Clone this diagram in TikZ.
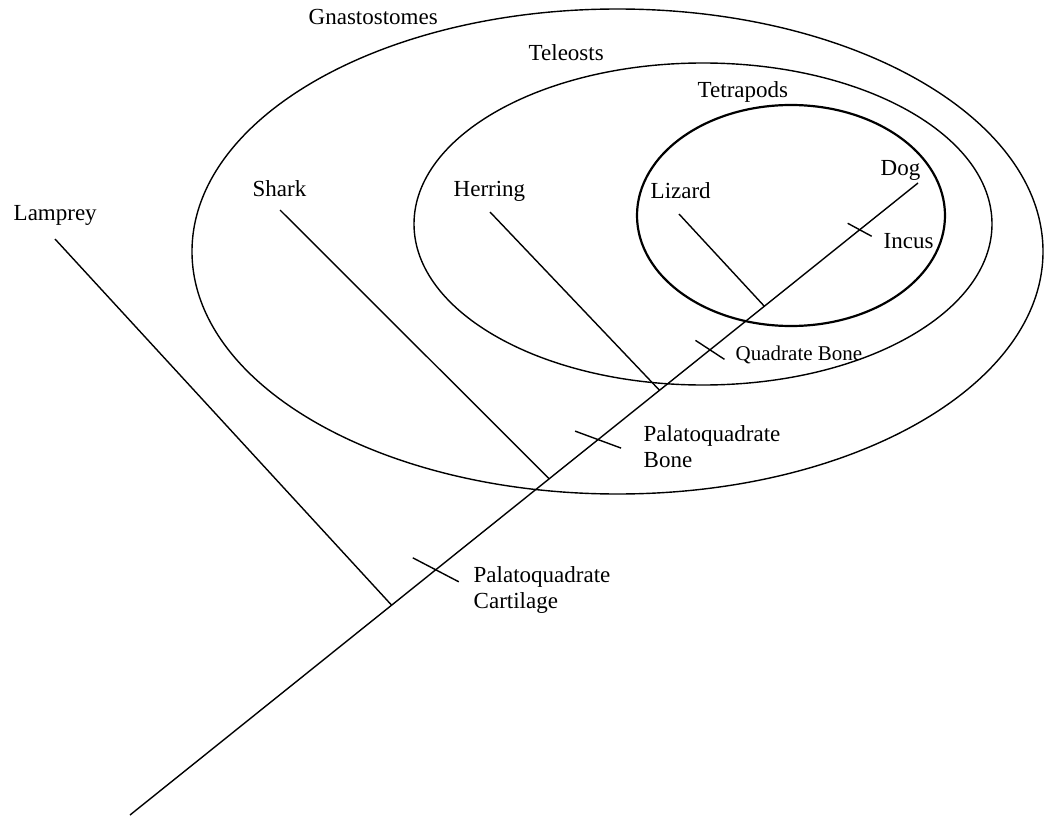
\documentclass[tikz,border=0pt]{standalone}
\usepackage{fontspec}
\setmainfont{Liberation Serif}
\usetikzlibrary{calc,positioning}

\tikzset{
  lbl/.style={inner sep=0pt,anchor=base west,font=\fontsize{23}{26}\selectfont},
  smalllbl/.style={lbl,font=\fontsize{21}{24}\selectfont},
  twolbl/.style={lbl,align=left},
  clade/.style={line width=1.4pt},
  tick/.style={line width=1.4pt}
}

\begin{document}
\begin{tikzpicture}[x=1pt,y=-1pt,line width=1.4pt]
\useasboundingbox (0,0) rectangle (1045,816);
% clades
\draw[clade] (617.5,251.5) ellipse [x radius=425.5pt, y radius=242.5pt];
\draw[clade] (703,224) ellipse [x radius=289pt, y radius=161pt];
\draw[clade,line width=2.2pt] (791,215.5) ellipse [x radius=154pt, y radius=110.5pt];
\node[lbl] (gnasto) at (308,25) {Gnastostomes};
\node[lbl] (teleo) at (528,61) {Teleosts};
\node[lbl] (tetra) at (697,97) {Tetrapods};
% trunk
\coordinate (root) at (130,815);
\coordinate (dogtip) at (918,183);
\draw (root) -- (dogtip);
\coordinate (jlamprey) at ($(root)!0.332!(dogtip)$);
\coordinate (jshark) at ($(root)!0.532!(dogtip)$);
\coordinate (jherring) at ($(root)!0.672!(dogtip)$);
\coordinate (jlizard) at ($(root)!0.805!(dogtip)$);
% branches
\coordinate (lampreytip) at (55,239);
\coordinate (sharktip) at (280,210);
\coordinate (herringtip) at (490,212);
\coordinate (lizardtip) at (679,214);
\draw (lampreytip) -- (jlamprey);
\draw (sharktip) -- (jshark);
\draw (herringtip) -- (jherring);
\draw (lizardtip) -- (jlizard);
\node[lbl] (lamprey) at (13,220) {Lamprey};
\node[lbl] (shark) at (252,196) {Shark};
\node[lbl] (herring) at (453,196) {Herring};
\node[lbl] (lizard) at (650,198) {Lizard};
\node[lbl] (dog) at (880,175) {Dog};
% traits
\coordinate (tcart) at ($(root)!0.388!(dogtip)$);
\coordinate (tpbone) at ($(root)!0.594!(dogtip)$);
\coordinate (tquad) at ($(root)!0.736!(dogtip)$);
\coordinate (tincus) at ($(root)!0.926!(dogtip)$);
\draw[tick] ($(tcart)+(-23,-12)$) -- ($(tcart)+(23,12)$);
\draw[tick] ($(tpbone)+(-23,-8.5)$) -- ($(tpbone)+(23,8.5)$);
\draw[tick] ($(tquad)+(-14.5,-9.5)$) -- ($(tquad)+(14.5,9.5)$);
\draw[tick] ($(tincus)+(-12,-6.5)$) -- ($(tincus)+(12,6.5)$);
\node[twolbl] (cart) at (473,608) {Palatoquadrate\\Cartilage};
\node[twolbl] (pbone) at (643,467) {Palatoquadrate\\Bone};
\node[smalllbl] (quad) at (735,360) {Quadrate Bone};
\node[lbl] (incus) at (883,248) {Incus};
\end{tikzpicture}
\end{document}
